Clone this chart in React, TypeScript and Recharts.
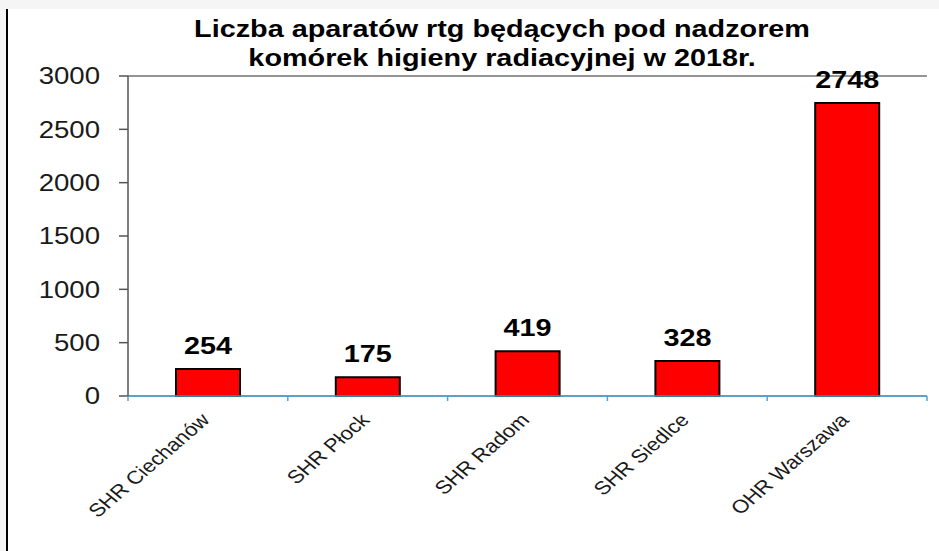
import React from 'react';
import { BarChart, Bar, XAxis, YAxis, CartesianGrid, LabelList } from 'recharts';

const categories = ['SHR Ciechanów', 'SHR Płock', 'SHR Radom', 'SHR Siedlce', 'OHR Warszawa'];
const values = [254, 175, 419, 328, 2748];
const yTicks = [0, 500, 1000, 1500, 2000, 2500, 3000];
const titleLines = ['Liczba aparatów rtg będących pod nadzorem', 'komórek higieny radiacyjnej w 2018r.'];

const data = categories.map((name, i) => ({ name, value: values[i] }));

const FONT = '"Liberation Sans", Arial, sans-serif';
const SX = 1.2;
const AXIS_BLUE = '#4fa3d9';

const YTick = (props: any) => {
  const { x, y, payload } = props;
  return (
    <g transform={`translate(${x},${y}) scale(${SX},1)`}>
      <text x={0} y={0} dy="0.36em" textAnchor="end" fontSize={23} fontFamily={FONT} fill="#1a1a1a">
        {payload.value}
      </text>
    </g>
  );
};

const XTick = (props: any) => {
  const { x, y, payload } = props;
  const half = payload && typeof payload.offset === 'number' ? payload.offset : 80;
  const isLast = payload.value === categories[categories.length - 1];
  return (
    <g>
      <line x1={x - half} x2={x - half} y1={y} y2={y + 5} stroke={AXIS_BLUE} strokeWidth={1.5} />
      {isLast && <line x1={x + half} x2={x + half} y1={y} y2={y + 5} stroke={AXIS_BLUE} strokeWidth={1.5} />}
      <g transform={`translate(${x + 3},${y + 25}) scale(${SX},1) rotate(-46)`}>
        <text x={0} y={0} textAnchor="end" fontSize={18.5} fontFamily={FONT} fill="#1a1a1a">
          {payload.value}
        </text>
      </g>
    </g>
  );
};

const ValueLabel = (props: any) => {
  const { x, y, width, value } = props;
  const cx = x + width / 2;
  return (
    <g transform={`translate(${cx},${y - 15}) scale(${SX},1)`}>
      <text x={0} y={0} textAnchor="middle" fontSize={24} fontWeight="bold" fontFamily={FONT} fill="#000">
        {value}
      </text>
    </g>
  );
};

export default function App() {
  return (
    <div style={{ position: 'fixed', left: 0, top: 0, width: 939, height: 551, background: '#f5f5f5', overflow: 'hidden' }}>
      <div style={{ position: 'absolute', left: 6, top: 9, right: 0, bottom: 0, background: '#fff', borderLeft: '2px solid #000' }} />
      <svg width={939} height={551} style={{ position: 'absolute', left: 0, top: 0 }}>
        {titleLines.map((t, i) => (
          <g key={i} transform={`translate(502,${37 + i * 29}) scale(${SX},1)`}>
            <text x={0} y={0} textAnchor="middle" fontSize={24} fontWeight="bold" fontFamily={FONT} fill="#000">
              {t}
            </text>
          </g>
        ))}
      </svg>
      <div style={{ position: 'absolute', left: 0, top: 0 }}>
        <BarChart width={939} height={551} data={data} margin={{ top: 76, right: 12, bottom: 0, left: 0 }}>
          <CartesianGrid horizontal vertical={false} stroke="#2a2a2a" strokeWidth={1} />
          <XAxis
            dataKey="name"
            axisLine={{ stroke: AXIS_BLUE, strokeWidth: 1.5 }}
            tickLine={false}
            tickSize={0}
            tickMargin={0}
            height={155}
            interval={0}
            tick={<XTick />}
          />
          <YAxis
            yAxisId="l"
            domain={[0, 3000]}
            ticks={yTicks}
            width={128}
            tickSize={9}
            tickMargin={19}
            axisLine={{ stroke: '#555', strokeWidth: 1.5 }}
            tickLine={{ stroke: '#555', strokeWidth: 1.5 }}
            tick={<YTick />}
            interval={0}
          />
          <YAxis
            yAxisId="r"
            orientation="right"
            domain={[0, 3000]}
            width={0}
            tick={false}
            tickLine={false}
            axisLine={{ stroke: '#777', strokeWidth: 1.5 }}
          />
          <Bar yAxisId="l" dataKey="value" fill="#ff0000" stroke="#000" strokeWidth={2} barSize={64} isAnimationActive={false}>
            <LabelList dataKey="value" content={<ValueLabel />} />
          </Bar>
        </BarChart>
      </div>
    </div>
  );
}
